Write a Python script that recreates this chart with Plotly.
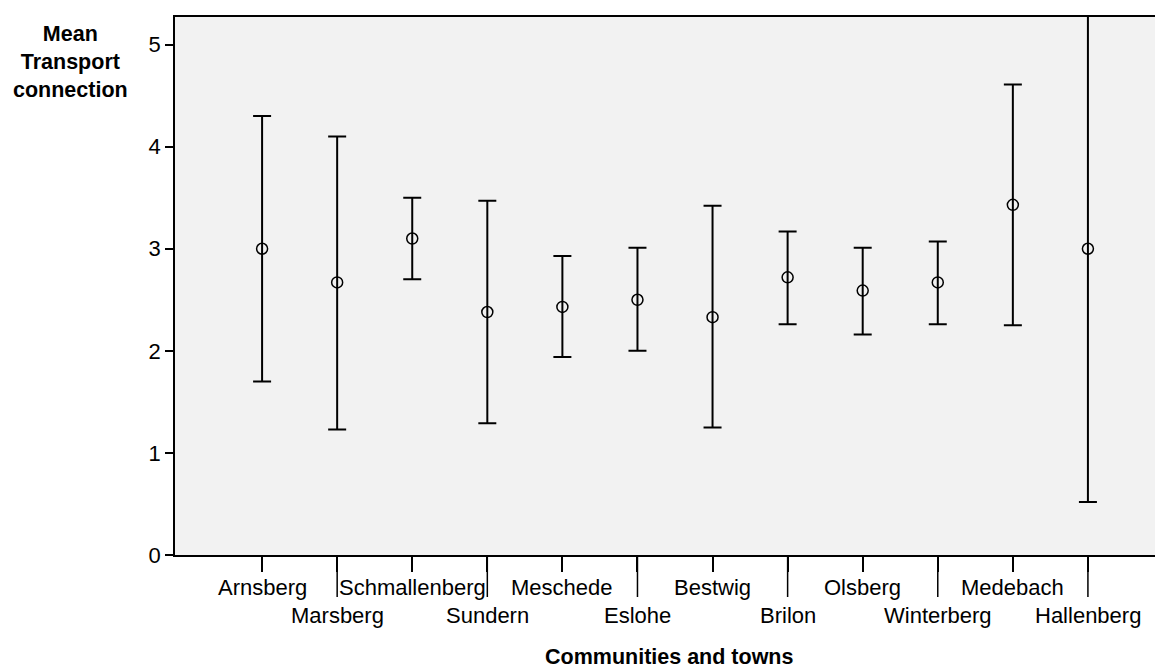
import plotly.graph_objects as go

towns = ["Arnsberg", "Marsberg", "Schmallenberg", "Sundern", "Meschede", "Eslohe",
         "Bestwig", "Brilon", "Olsberg", "Winterberg", "Medebach", "Hallenberg"]
means = [3.00, 2.67, 3.10, 2.38, 2.43, 2.50, 2.33, 2.72, 2.59, 2.67, 3.43, 3.00]
upper = [4.30, 4.10, 3.50, 3.47, 2.93, 3.01, 3.42, 3.17, 3.01, 3.07, 4.61, 5.48]
lower = [1.70, 1.23, 2.70, 1.29, 1.94, 2.00, 1.25, 2.26, 2.16, 2.26, 2.25, 0.52]
y_ticks = [0, 1, 2, 3, 4, 5]

FONT = "Liberation Sans, Arial, sans-serif"
FS = 22
xs = list(range(len(towns)))

fig = go.Figure()
fig.add_trace(go.Scatter(
    x=xs, y=means, mode="markers",
    marker=dict(symbol="circle-open", size=11, color="black", line=dict(width=1.5, color="black")),
    error_y=dict(type="data", symmetric=False,
                 array=[u - m for u, m in zip(upper, means)],
                 arrayminus=[m - l for m, l in zip(means, lower)],
                 color="black", thickness=2, width=9),
    showlegend=False, hoverinfo="skip",
))

# category labels in two staggered rows, long ticks for the lower row
for i, name in enumerate(towns):
    low = i % 2 == 1
    fig.add_annotation(x=i, xref="x", y=0, yref="paper", yanchor="top",
                       text=name, showarrow=False, yshift=-18 if not low else -46,
                       font=dict(family=FONT, size=FS, color="black"))
    if low:
        fig.add_shape(type="line", xref="x", yref="paper", ysizemode="pixel", yanchor=0,
                      x0=i, x1=i, y0=0, y1=-42, line=dict(color="black", width=1.5))

fig.add_annotation(x=0.5, xref="paper", y=0, yref="paper", yanchor="top", yshift=-88,
                   text="<b>Communities and towns</b>", showarrow=False,
                   font=dict(family=FONT, size=21.5, color="black"))
fig.add_annotation(x=-0.106, xref="paper", xanchor="center", y=0.916, yref="paper",
                   yanchor="middle",
                   text="<b>Mean<br>Transport<br>connection</b>", showarrow=False, align="center",
                   font=dict(family=FONT, size=21.5, color="black"))

# page body has an 8px margin; size the figure so the plot lands where the reference has it
fig.update_layout(
    width=1155, height=662,
    margin=dict(l=167, r=0, t=9, b=115),
    paper_bgcolor="white", plot_bgcolor="#f2f2f2",
    font=dict(family=FONT, size=FS, color="black"),
    xaxis=dict(range=[-1.16, 12.0], tickvals=xs, ticktext=[""] * len(xs),
               ticks="outside", ticklen=15, tickwidth=1.5, tickcolor="black",
               showline=True, linecolor="black", linewidth=1.5, mirror=True,
               showgrid=False, zeroline=False, fixedrange=True),
    yaxis=dict(range=[0, 5.27], tickvals=y_ticks, ticks="outside", ticklen=8,
               tickwidth=1.5, tickcolor="black", showline=True, linecolor="black",
               linewidth=1.5, showgrid=False, zeroline=False,
               tickfont=dict(family=FONT, size=FS, color="black")),
)

fig.write_html("out.html")
